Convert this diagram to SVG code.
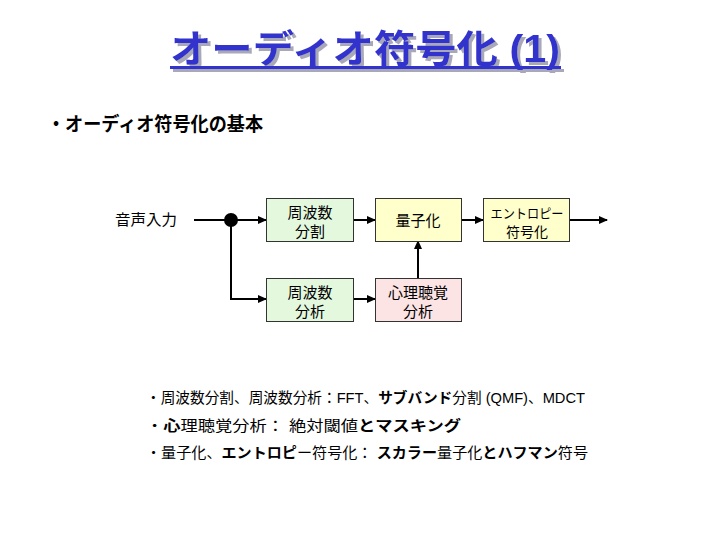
<svg xmlns="http://www.w3.org/2000/svg" width="720" height="540" viewBox="0 0 720 540">
<defs>
<style>
text{font-family:"Liberation Sans","Noto Sans CJK JP",sans-serif;fill:#000}
.box{stroke:#333;stroke-width:1}
.g{fill:#E4F8DE}
.y{fill:#FFFFCC}
.p{fill:#FDE4E4}
.bt{font-size:15px;text-anchor:middle}
.ln{fill:none;stroke:#000;stroke-width:2}
.bl{font-size:14.5px}
.title{font-size:38px;font-weight:bold}
</style>
<filter id="shadow" x="-5%" y="-20%" width="115%" height="150%">
<feOffset in="SourceAlpha" dx="3" dy="3" result="o"/>
<feFlood flood-color="#A8A8B8"/>
<feComposite in2="o" operator="in" result="s"/>
<feMerge><feMergeNode in="s"/><feMergeNode in="SourceGraphic"/></feMerge>
</filter>
<marker id="ah" markerUnits="userSpaceOnUse" markerWidth="10" markerHeight="8" refX="8" refY="4" orient="auto">
<path d="M0,0 L9,4 L0,8 Z" fill="#000"/>
</marker>
</defs>
<rect width="720" height="540" fill="#fff"/>
<g id="title" filter="url(#shadow)">
<text x="170" y="62" class="title" style="fill:#3333CC" textLength="390" lengthAdjust="spacingAndGlyphs">オーディオ符号化 (1)</text>
<rect x="170" y="66" width="391" height="3" fill="#3333CC"/>
</g>
<g id="heading">
<text x="47" y="131" style="font-size:19px;font-weight:bold" textLength="216" lengthAdjust="spacingAndGlyphs">・オーディオ符号化の基本</text>
</g>
<g id="input-label">
<text x="115" y="225" style="font-size:15px" textLength="62" lengthAdjust="spacingAndGlyphs">音声入力</text>
</g>
<g id="connectors">
<line class="ln" x1="194" y1="220" x2="266" y2="220" marker-end="url(#ah)"/>
<polyline class="ln" points="231,220 231,299 266,299" marker-end="url(#ah)"/>
<line class="ln" x1="354" y1="220" x2="375" y2="220" marker-end="url(#ah)"/>
<line class="ln" x1="461" y1="220" x2="483" y2="220" marker-end="url(#ah)"/>
<line class="ln" x1="570" y1="220" x2="607" y2="220" marker-end="url(#ah)"/>
<line class="ln" x1="354" y1="299" x2="375" y2="299" marker-end="url(#ah)"/>
<line class="ln" x1="418" y1="278" x2="418" y2="241" marker-end="url(#ah)"/>
<circle cx="231" cy="220" r="7" fill="#000"/>
</g>
<g id="freq-split">
<rect class="box g" x="266.5" y="198.5" width="87" height="43"/>
<text class="bt" x="310" y="218">周波数</text>
<text class="bt" x="310" y="237">分割</text>
</g>
<g id="quantize">
<rect class="box y" x="375.5" y="198.5" width="86" height="43"/>
<text class="bt" x="418" y="226">量子化</text>
</g>
<g id="entropy">
<rect class="box y" x="483.5" y="198.5" width="86" height="43"/>
<text class="bt" x="527" y="218" style="font-size:13px" textLength="73" lengthAdjust="spacingAndGlyphs">エントロピー</text>
<text class="bt" x="527" y="237" style="font-size:14px">符号化</text>
</g>
<g id="freq-analysis">
<rect class="box g" x="266.5" y="278.5" width="87" height="43"/>
<text class="bt" x="310" y="298">周波数</text>
<text class="bt" x="310" y="317">分析</text>
</g>
<g id="psycho">
<rect class="box p" x="375.5" y="278.5" width="86" height="43"/>
<text class="bt" x="418" y="298">心理聴覚</text>
<text class="bt" x="418" y="317">分析</text>
</g>
<g id="notes">
<text class="bl" x="146" y="403" textLength="439" lengthAdjust="spacingAndGlyphs">・周波数分割、周波数分析：FFT、<tspan font-weight="bold">サブバンド</tspan>分割 (QMF)、MDCT</text>
<text class="bl" x="146" y="431" textLength="315" lengthAdjust="spacingAndGlyphs">・<tspan font-weight="bold">心</tspan>理聴覚分析： 絶対閾値<tspan font-weight="bold">とマスキング</tspan></text>
<text class="bl" x="146" y="458" textLength="442" lengthAdjust="spacingAndGlyphs">・量子化、<tspan font-weight="bold">エントロピ</tspan>ー符号化： <tspan font-weight="bold">スカラー</tspan>量子化<tspan font-weight="bold">とハフマン</tspan>符号</text>
</g>
</svg>
